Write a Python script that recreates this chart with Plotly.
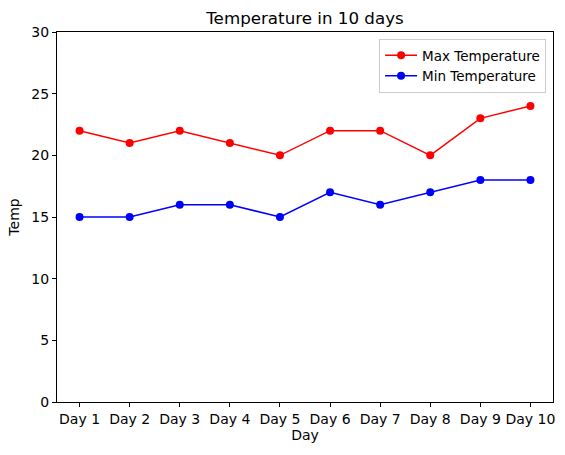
import plotly.graph_objects as go

days = ["Day 1", "Day 2", "Day 3", "Day 4", "Day 5", "Day 6", "Day 7", "Day 8", "Day 9", "Day 10"]
max_temp = [22, 21, 22, 21, 20, 22, 22, 20, 23, 24]
min_temp = [15, 15, 16, 16, 15, 17, 16, 17, 18, 18]

font = "DejaVu Sans"
fig = go.Figure()
fig.add_trace(go.Scatter(x=days, y=max_temp, mode="lines+markers", name="Max Temperature",
                         line=dict(color="red", width=1.5), marker=dict(color="red", size=8)))
fig.add_trace(go.Scatter(x=days, y=min_temp, mode="lines+markers", name="Min Temperature",
                         line=dict(color="blue", width=1.5), marker=dict(color="blue", size=8)))

axis_common = dict(showline=True, linecolor="black", linewidth=1, mirror=True, ticks="outside",
                   ticklen=4, tickcolor="black", showgrid=False, zeroline=False, automargin=False,
                   tickfont=dict(family=font, size=14, color="black"))
fig.update_layout(
    width=565, height=455,
    margin=dict(l=57, r=12, t=32, b=53),
    paper_bgcolor="white", plot_bgcolor="white",
    title=dict(text="Temperature in 10 days", x=0.5, xref="paper", y=1 - 18 / 455, yanchor="middle",
               font=dict(family=font, size=16.7, color="black")),
    xaxis=dict(**axis_common, range=[-0.45, 9.45],
               title=dict(text="Day", font=dict(family=font, size=14, color="black"), standoff=4)),
    yaxis=dict(**axis_common, range=[0, 30], dtick=5,
               title=dict(text="Temp", font=dict(family=font, size=14, color="black"), standoff=8)),
    legend=dict(x=0.986, y=0.981, xanchor="right", yanchor="top", bgcolor="white",
                bordercolor="#cccccc", borderwidth=1, itemwidth=32, tracegroupgap=0,
                font=dict(family=font, size=13.5, color="black")),
    showlegend=True,
)
fig.write_html("out.html", config={"displayModeBar": False},
               post_script="document.body.style.margin='0';document.body.style.padding='0';")
